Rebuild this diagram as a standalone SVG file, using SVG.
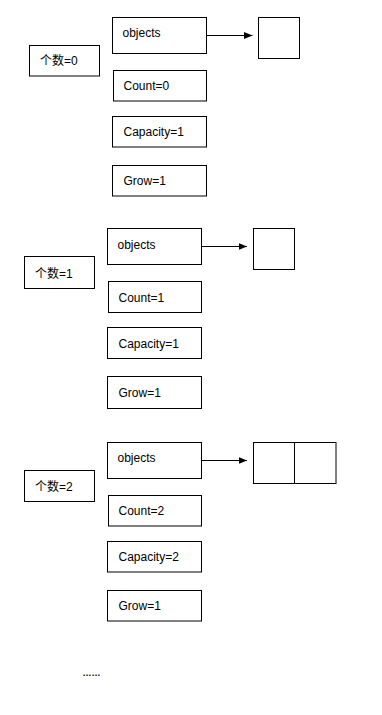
<svg xmlns="http://www.w3.org/2000/svg" width="382" height="715" viewBox="0 0 382 715">
<defs>
<marker id="arr" markerWidth="9" markerHeight="8" refX="8.5" refY="4" orient="auto" markerUnits="userSpaceOnUse">
<path d="M0,0.5 L8.5,4 L0,7.5 Z" fill="#000"/>
</marker>
</defs>
<style>
rect{fill:#fff;stroke:#000;stroke-width:1}
line{stroke:#000;stroke-width:1}
text{font-family:"Liberation Sans","Noto Sans CJK SC",sans-serif;font-size:12px;fill:#000}
</style>
<rect x="0" y="0" width="382" height="715" style="stroke:none"/>
<g id="s1-count"><rect x="29.5" y="45.5" width="70" height="30.5"/><text x="40" y="65">个数=0</text></g>
<g id="s1-objects"><rect x="112.5" y="17.5" width="94" height="36"/><text x="122.5" y="37">objects</text></g>
<g id="s1-Count"><rect x="113.5" y="70.5" width="93" height="30.5"/><text x="123.5" y="90">Count=0</text></g>
<g id="s1-Capacity"><rect x="112.5" y="116.5" width="94" height="30.5"/><text x="123.5" y="136">Capacity=1</text></g>
<g id="s1-Grow"><rect x="112.5" y="165.5" width="94" height="30.5"/><text x="123.5" y="185">Grow=1</text></g>
<g id="s1-array"><rect x="258.5" y="17.5" width="41" height="41"/></g>

<g id="s2-count"><rect x="24.5" y="256.5" width="70" height="32"/><text x="35" y="278">个数=1</text></g>
<g id="s2-objects"><rect x="107.5" y="228.5" width="94" height="36"/><text x="117.5" y="248.5">objects</text></g>
<g id="s2-Count"><rect x="108.5" y="281.5" width="93" height="31"/><text x="118.5" y="301.5">Count=1</text></g>
<g id="s2-Capacity"><rect x="107.5" y="327.5" width="94" height="31"/><text x="118.5" y="348">Capacity=1</text></g>
<g id="s2-Grow"><rect x="107.5" y="376.5" width="94" height="32"/><text x="118.5" y="396.5">Grow=1</text></g>
<g id="s2-array"><rect x="253.5" y="228.5" width="41" height="41"/></g>

<g id="s3-count"><rect x="24.5" y="470.5" width="70" height="31"/><text x="35" y="491">个数=2</text></g>
<g id="s3-objects"><rect x="107.5" y="442.5" width="94" height="36"/><text x="117.5" y="461.5">objects</text></g>
<g id="s3-Count"><rect x="108.5" y="495.5" width="93" height="30.5"/><text x="118.5" y="515">Count=2</text></g>
<g id="s3-Capacity"><rect x="107.5" y="541.5" width="94" height="30.5"/><text x="118.5" y="561">Capacity=2</text></g>
<g id="s3-Grow"><rect x="107.5" y="590.5" width="94" height="30.5"/><text x="118.5" y="609.5">Grow=1</text></g>
<g id="s3-array"><rect x="253.5" y="442.5" width="82.5" height="41"/><line x1="294.5" y1="442.5" x2="294.5" y2="483.5"/></g>

<g id="connectors">
<line x1="206.5" y1="35.5" x2="252.5" y2="35.5" marker-end="url(#arr)"/>
<line x1="201.5" y1="246.5" x2="247" y2="246.5" marker-end="url(#arr)"/>
<line x1="201.5" y1="460.5" x2="247" y2="460.5" marker-end="url(#arr)"/>
</g>
<text x="82.5" y="676" style="font-size:9px;font-weight:bold">……</text>
</svg>
